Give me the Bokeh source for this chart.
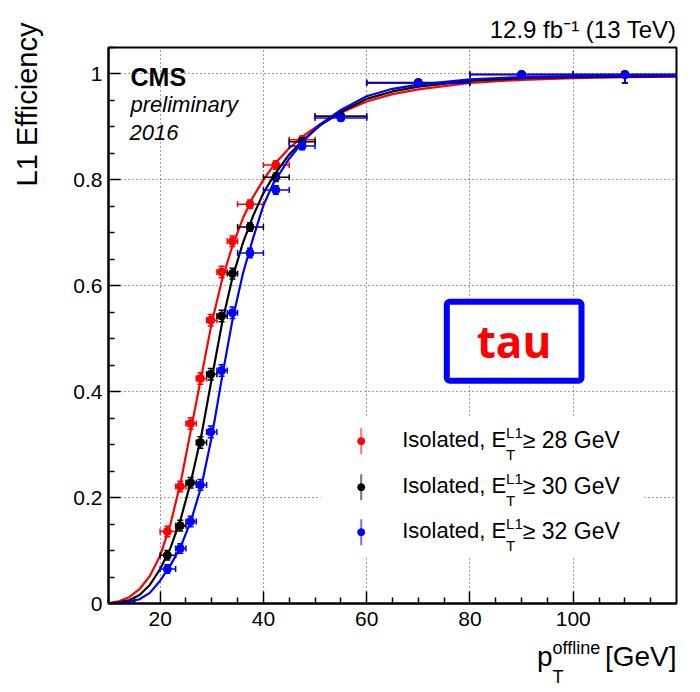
from math import pi
from bokeh.plotting import figure
from bokeh.models import Range1d, FixedTicker, Label, BoxAnnotation
from bokeh.embed import file_html
from bokeh.resources import INLINE

# ---------------- data ----------------
bin_lo = [20, 23, 25, 27, 29, 31, 33, 35, 40, 45, 50, 60, 80, 100]
bin_hi = [23, 25, 27, 29, 31, 33, 35, 40, 45, 50, 60, 80, 100, 120]
pt_mean = [21.4, 23.9, 25.9, 27.8, 29.8, 31.9, 34.0, 37.4, 42.4, 47.5, 55.0, 70.0, 90.0, 110.0]

eff_28 = [0.136, 0.221, 0.340, 0.425, 0.535, 0.626, 0.684, 0.754, 0.828, 0.876, 0.920, 0.983, 0.999, 0.999]
eff_30 = [0.091, 0.147, 0.228, 0.304, 0.433, 0.543, 0.623, 0.711, 0.805, 0.872, 0.920, 0.984, 0.999, 0.999]
eff_32 = [0.065, 0.104, 0.155, 0.224, 0.324, 0.440, 0.549, 0.662, 0.781, 0.864, 0.917, 0.983, 0.999, 0.999]

err_28 = [0.010, 0.010, 0.011, 0.011, 0.011, 0.011, 0.010, 0.008, 0.008, 0.007, 0.005, 0.004, 0.004, 0.016]
err_30 = [0.009, 0.010, 0.010, 0.011, 0.011, 0.011, 0.010, 0.008, 0.008, 0.007, 0.005, 0.004, 0.004, 0.016]
err_32 = [0.008, 0.009, 0.010, 0.010, 0.011, 0.011, 0.011, 0.009, 0.008, 0.007, 0.005, 0.004, 0.004, 0.016]

fit_pt = [10, 12, 14, 16, 18, 20, 22, 24, 26, 28, 30, 32, 34, 36, 38, 40, 42, 45, 48, 51,
          55, 60, 65, 70, 80, 90, 100, 110, 120]
fit_28 = [0.001, 0.004, 0.012, 0.027, 0.052, 0.090, 0.150, 0.230, 0.330, 0.430, 0.530, 0.612,
          0.675, 0.727, 0.768, 0.800, 0.828, 0.860, 0.885, 0.905, 0.927, 0.948, 0.962, 0.971,
          0.983, 0.989, 0.992, 0.994, 0.995]
fit_30 = [0.000, 0.002, 0.006, 0.016, 0.035, 0.065, 0.105, 0.160, 0.232, 0.318, 0.425, 0.530,
          0.615, 0.680, 0.732, 0.775, 0.808, 0.848, 0.878, 0.903, 0.928, 0.953, 0.967, 0.976,
          0.987, 0.992, 0.994, 0.995, 0.996]
fit_32 = [0.000, 0.001, 0.003, 0.008, 0.020, 0.043, 0.072, 0.108, 0.157, 0.222, 0.315, 0.428,
          0.535, 0.622, 0.690, 0.752, 0.795, 0.840, 0.876, 0.905, 0.932, 0.958, 0.972, 0.980,
          0.990, 0.994, 0.996, 0.997, 0.997]

thresholds = ["28", "30", "32"]
series_colors = ["#ff0000", "#000000", "#0000ff"]

x_ticks = [20, 40, 60, 80, 100]
x_minor = [10, 15, 25, 30, 35, 45, 50, 55, 65, 70, 75, 85, 90, 95, 105, 110, 115]
y_ticks = [0, 0.2, 0.4, 0.6, 0.8, 1.0]
y_tick_labels = ["0", "0.2", "0.4", "0.6", "0.8", "1"]
y_minor = [0.05, 0.1, 0.15, 0.25, 0.3, 0.35, 0.45, 0.5, 0.55, 0.65, 0.7, 0.75, 0.85, 0.9, 0.95, 1.05]

# ---------------- layout ----------------
X0, X1 = 10, 120
Y0, Y1 = 0.0, 1.05
W, H = 700, 692
FL, FR, FT, FB = 108, 676, 47, 603
FONT = "Liberation Sans"


def px2x(px):
    return X0 + (px - FL) * (X1 - X0) / (FR - FL)


def py2y(py):
    return Y0 + (FB - py) * (Y1 - Y0) / (FB - FT)


p = figure(width=W, height=H, output_backend="svg", toolbar_location=None,
           x_range=Range1d(X0, X1), y_range=Range1d(Y0, Y1),
           min_border_left=FL, min_border_right=W - FR,
           min_border_top=FT, min_border_bottom=H - FB)
p.background_fill_color = "white"
p.border_fill_color = "white"
p.outline_line_color = "black"
p.outline_line_width = 2

xt = FixedTicker(ticks=x_ticks, minor_ticks=x_minor)
yt = FixedTicker(ticks=y_ticks, minor_ticks=y_minor)
p.xaxis.ticker = xt
p.yaxis.ticker = yt
p.xgrid.ticker = xt
p.ygrid.ticker = yt
p.yaxis.major_label_overrides = {t: s for t, s in zip(y_ticks, y_tick_labels)}

for ax in (p.xaxis, p.yaxis):
    ax.axis_line_color = "black"
    ax.axis_line_width = 2
    ax.major_tick_in = 12
    ax.major_tick_out = 0
    ax.minor_tick_in = 6
    ax.minor_tick_out = 0
    ax.major_tick_line_color = "black"
    ax.minor_tick_line_color = "black"
    ax.major_tick_line_width = 1.5
    ax.minor_tick_line_width = 1.5
    ax.major_label_text_font = FONT
    ax.major_label_text_font_size = "21px"
    ax.major_label_text_color = "black"
    ax.axis_label = None
p.xaxis.major_label_standoff = 8
p.yaxis.major_label_standoff = 6

for g in (p.xgrid, p.ygrid):
    g.grid_line_color = "black"
    g.grid_line_alpha = 0.75
    g.grid_line_dash = "1 3"
    g.grid_line_width = 1

# legend and tag boxes (white, hide grid)
p.add_layout(BoxAnnotation(left=px2x(320), right=px2x(642), top=py2y(417), bottom=py2y(557),
                           fill_color="white", fill_alpha=1.0, line_color=None, level="underlay"))
p.add_layout(BoxAnnotation(left=px2x(446.3), right=px2x(581), top=py2y(301.3), bottom=py2y(380.3),
                           fill_color="white", fill_alpha=1.0, line_color="#0000ff", line_alpha=1.0,
                           line_width=6, border_radius=3, level="underlay"))

cap_size = 6
fits = [fit_28, fit_30, fit_32]
series = [eff_28, eff_30, eff_32]
errs = [err_28, err_30, err_32]
for eff, err, fit, col in zip(series, errs, fits, series_colors):
    lo = [e - d for e, d in zip(eff, err)]
    hi = [min(e + d, 1.0) for e, d in zip(eff, err)]
    p.line(fit_pt, fit, line_color=col, line_width=2.2)
    # horizontal (bin) error bars
    p.segment(x0=bin_lo, y0=eff, x1=bin_hi, y1=eff, line_color=col, line_width=1.5)
    p.scatter(x=bin_lo, y=eff, marker="dash", angle=pi / 2, size=cap_size, line_color=col, line_width=1.5)
    p.scatter(x=bin_hi, y=eff, marker="dash", angle=pi / 2, size=cap_size, line_color=col, line_width=1.5)
    # vertical error bars
    p.segment(x0=pt_mean, y0=lo, x1=pt_mean, y1=hi, line_color=col, line_width=1.5)
    p.scatter(x=pt_mean, y=lo, marker="dash", size=cap_size, line_color=col, line_width=1.5)
    p.scatter(x=pt_mean, y=hi, marker="dash", size=cap_size, line_color=col, line_width=1.5)
    p.scatter(x=pt_mean, y=eff, marker="circle", size=8, fill_color=col, line_color=col)

BASE_SHIFT = 0.42  # observed offset of the alphabetic baseline, in em


def make_text(px, py, text, size, align="left", style="normal", color="black", font=FONT, angle=0.0):
    if angle:
        # rotated by +90 deg: the text's "down" direction points to the right
        x, y = px2x(px - BASE_SHIFT * size), py2y(py)
    else:
        x, y = px2x(px), py2y(py - BASE_SHIFT * size)
    return Label(x=x, y=y, text=text, text_font=font,
                 text_font_size=f"{size}px", text_align=align, text_baseline="alphabetic",
                 text_font_style=style, text_color=color, angle=angle)


def add_text(*args, place="center", **kw):
    p.add_layout(make_text(*args, **kw), place)


# legend
row_py = [440.7, 486.7, 531.7]
mk_px = 360.7
for thr, col, ry in zip(thresholds, series_colors, row_py):
    p.segment(x0=[px2x(mk_px)], y0=[py2y(ry - 13)], x1=[px2x(mk_px)], y1=[py2y(ry + 13)],
              line_color=col, line_alpha=0.55, line_width=2)
    p.scatter(x=[px2x(mk_px)], y=[py2y(ry)], marker="circle", size=7, fill_color=col, line_color=col)
    base = ry + 8
    add_text(401.7, base, "Isolated, E", 22)
    add_text(505.6, base - 10, "L1", 15)
    add_text(505.6, base + 12, "T", 15)
    add_text(522.3, base, "\u2265  " + thr + " GeV", 23)

# CMS tags
add_text(130, 86.7, "CMS", 25, style="bold")
add_text(130, 113.3, "preliminary", 22, style="italic")
add_text(129, 141.7, "2016", 22, style="italic")

# tau tag
add_text(513.5, 359, "tau", 44, align="center", style="bold", color="#ff0000", font="Open Sans")

# texts outside the frame (placed in side panels, which are not clipped)
add_text(676, 39, "12.9 fb\u207b\u00b9 (13 TeV)", 24, align="right", place="above")
add_text(676, 668, "[GeV]", 28, align="right", place="below")
add_text(552, 655, "offline", 18, place="below")
add_text(552, 684, "T", 18, place="right")
add_text(552, 668, "p", 28, align="right", place="left")
add_text(39, 22, "L1 Efficiency", 29, align="right", angle=pi / 2, place="left")

open("out.html", "w").write(file_html(p, INLINE))
